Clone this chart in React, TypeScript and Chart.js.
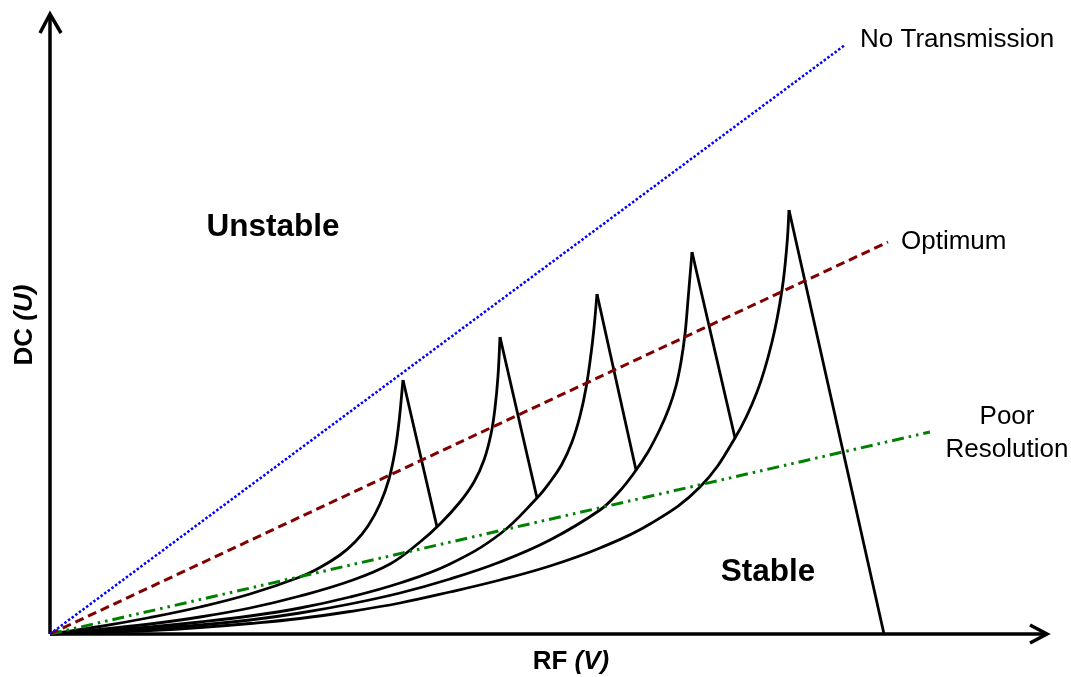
import React, { useEffect, useRef } from "react";
import { Chart, registerables } from "chart.js";

Chart.register(...registerables);

// Stability-region boundaries (RF on x, DC on y), arbitrary units
const curve1 = [[0, 0], [50, 7.5], [100, 16.5], [150, 27], [200, 40], [250, 57], [270, 66.5], [290, 79], [305, 92], [318, 108], [330, 130], [339, 155], [345, 183], [349, 212], [353, 254]];
const curve2 = [[0, 0], [50, 4.5], [100, 10], [150, 17], [200, 26], [250, 38], [300, 53], [340, 70], [370, 92], [390, 110], [410, 132], [424, 152], [434, 174], [441, 200], [445, 226], [448, 258], [450, 297]];
const curve3 = [[0, 0], [50, 3], [100, 7], [150, 12], [200, 18], [250, 26], [300, 37], [350, 51], [400, 70], [450, 100], [487, 136], [500, 152], [512, 170], [522, 192], [530, 218], [536, 246], [541, 280], [544, 306], [547, 340]];
const curve4 = [[0, 0], [50, 2.5], [100, 5.5], [150, 9], [200, 14], [250, 21], [300, 30], [350, 41], [400, 55], [450, 72], [500, 94], [550, 124], [568, 141], [584, 161], [598, 182], [610, 205], [619, 226], [626, 248], [631, 272], [635, 300], [638, 334], [642, 382]];
const curve5 = [[0, 0], [50, 1.5], [100, 3.5], [150, 6.5], [200, 10.5], [250, 15.5], [300, 22.5], [350, 31], [400, 42], [450, 54], [500, 68], [550, 86], [600, 110], [650, 147], [685, 196], [707, 242], [722, 292], [732, 344], [737, 390], [739, 424]];

// Right-hand (straight) edges of each region
const edge1 = [[353, 254], [387, 107]];
const edge2 = [[450, 297], [487, 136]];
const edge3 = [[547, 340], [586, 164]];
const edge4 = [[642, 382], [685, 196]];
const edge5 = [[739, 424], [834, 0]];

// Scan lines
const noTransmissionLine = [[0, 0], [795, 589]];
const optimumLine = [[0, 0], [838, 392]];
const poorResolutionLine = [[0, 0], [880, 202]];

// Axes with arrow heads
const yAxisLine = [[0, 0], [0, 620]];
const yArrow = [[-10, 601], [0, 620], [11, 601]];
const xAxisLine = [[0, 0], [997, 0]];
const xArrow = [[980, 9], [997, 0], [980, -9]];

// Text labels: [text, x, y, align]
const lineLabels: [string, number, number, CanvasTextAlign][] = [
  ["No Transmission", 810, 594, "left"],
  ["Optimum", 851, 392, "left"],
  ["Poor", 957, 217, "center"],
  ["Resolution", 957, 184, "center"],
];
const regionLabels: [string, number, number][] = [
  ["Unstable", 223, 407],
  ["Stable", 718, 62],
];
const xTitle = ["RF ", "(V)"];
const yTitle = ["DC ", "(U)"];
const xTitlePos = [521, -28];
const yTitlePos = [-25, 309];

const toXY = (a: number[][]) => a.map(([x, y]) => ({ x, y }));

const FONT = '"Liberation Sans", Arial, sans-serif';

const labelPlugin = {
  id: "labels",
  afterDatasetsDraw(chart: any) {
    const { ctx, scales } = chart;
    const px = (v: number) => scales.x.getPixelForValue(v);
    const py = (v: number) => scales.y.getPixelForValue(v);
    ctx.save();
    ctx.fillStyle = "#000";
    ctx.textBaseline = "middle";
    ctx.font = `26px ${FONT}`;
    for (const [t, x, y, al] of lineLabels) {
      ctx.textAlign = al;
      ctx.fillText(t, px(x), py(y));
    }
    ctx.font = `bold 31.5px ${FONT}`;
    ctx.textAlign = "center";
    for (const [t, x, y] of regionLabels) ctx.fillText(t, px(x), py(y));

    const drawMixed = (parts: string[], cx: number, cy: number, rot: number) => {
      ctx.save();
      ctx.translate(cx, cy);
      ctx.rotate(rot);
      const f1 = `bold 26px ${FONT}`;
      const f2 = `italic bold 26px ${FONT}`;
      ctx.font = f1;
      const w1 = ctx.measureText(parts[0]).width;
      ctx.font = f2;
      const w2 = ctx.measureText(parts[1]).width;
      const start = -(w1 + w2) / 2;
      ctx.textAlign = "left";
      ctx.font = f1;
      ctx.fillText(parts[0], start, 0);
      ctx.font = f2;
      ctx.fillText(parts[1], start + w1, 0);
      ctx.restore();
    };
    drawMixed(xTitle, px(xTitlePos[0]), py(xTitlePos[1]), 0);
    drawMixed(yTitle, px(yTitlePos[0]), py(yTitlePos[1]), -Math.PI / 2);
    ctx.restore();
  },
};

export default function App() {
  const ref = useRef<HTMLCanvasElement | null>(null);
  useEffect(() => {
    document.body.style.margin = "0";
    if (!ref.current) return;
    const curveDs = (d: number[][]) => ({
      data: toXY(d),
      borderColor: "#000",
      borderWidth: 2.8,
      tension: 0.4,
      pointRadius: 0,
      showLine: true,
      fill: false,
    });
    const straight = (d: number[][], color: string, width: number, dash: number[] = []) => ({
      data: toXY(d),
      borderColor: color,
      borderWidth: width,
      borderDash: dash,
      tension: 0,
      pointRadius: 0,
      showLine: true,
      fill: false,
    });
    const chart = new Chart(ref.current, {
      type: "scatter",
      data: {
        datasets: [
          straight(noTransmissionLine, "#0000ff", 2.5, [2.5, 2]),
          straight(optimumLine, "#800000", 3, [9, 5]),
          straight(poorResolutionLine, "#008000", 3, [12, 5, 2.5, 5, 2.5, 5]),
          curveDs(curve1),
          curveDs(curve2),
          curveDs(curve3),
          curveDs(curve4),
          curveDs(curve5),
          straight(edge1, "#000", 2.8),
          straight(edge2, "#000", 2.8),
          straight(edge3, "#000", 2.8),
          straight(edge4, "#000", 2.8),
          straight(edge5, "#000", 2.8),
          straight(yAxisLine, "#000", 3.5),
          straight(yArrow, "#000", 3.5),
          straight(xAxisLine, "#000", 3.5),
          straight(xArrow, "#000", 3.5),
        ] as any,
      },
      options: {
        animation: false,
        responsive: false,
        devicePixelRatio: 1,
        layout: { padding: 0 },
        plugins: { legend: { display: false }, tooltip: { enabled: false } },
        events: [],
        scales: {
          x: { type: "linear", min: -50, max: 1021, display: false },
          y: { type: "linear", min: -43, max: 634, display: false },
        },
      },
      plugins: [labelPlugin],
    });
    return () => chart.destroy();
  }, []);
  return <canvas ref={ref} width={1071} height={677} style={{ display: "block" }} />;
}
